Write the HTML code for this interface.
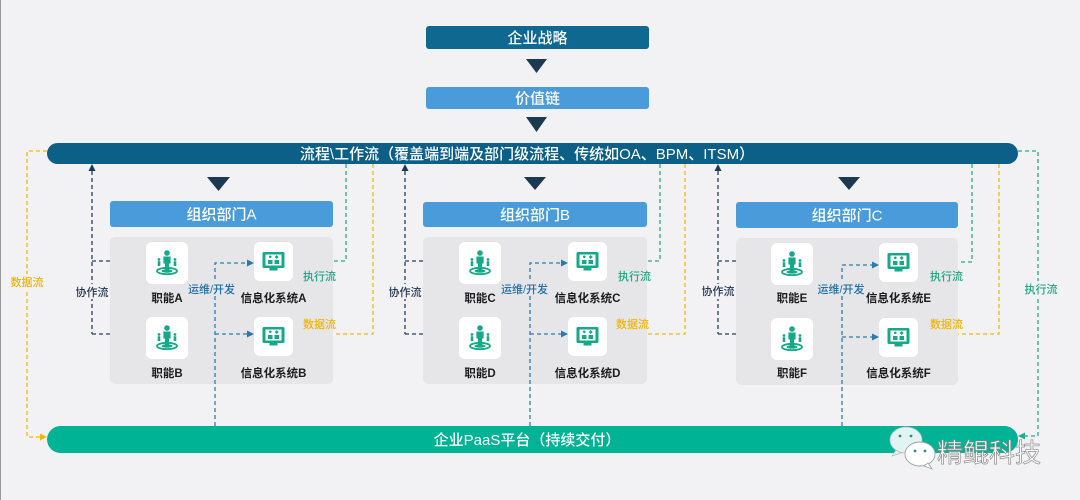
<!DOCTYPE html>
<html><head><meta charset="utf-8"><style>
html,body{margin:0;padding:0;background:#f2f1f4;}
svg{display:block;}
text{font-family:"Liberation Sans","Noto Sans CJK SC",sans-serif;}
.w{fill:#fff;font-size:15px;text-anchor:middle;font-weight:500;}
.lb{fill:#1c1c1c;font-size:11.5px;text-anchor:middle;font-weight:600;}
.fl{font-weight:500;}
.nv{fill:none;stroke:#23405c;stroke-width:1.3;stroke-dasharray:4 3;}
.bl{fill:none;stroke:#2c7cb3;stroke-width:1.3;stroke-dasharray:4 3;}
.tl{fill:none;stroke:#2aaa8a;stroke-width:1.3;stroke-dasharray:4 3;}
.yl{fill:none;stroke:#f5b90a;stroke-width:1.3;stroke-dasharray:4 3;}
</style></head><body>
<svg width="1080" height="500" viewBox="0 0 1080 500" xmlns="http://www.w3.org/2000/svg">
<defs>
<g id="person">
  <circle cx="0" cy="-10" r="2.8" fill="#15a98a"/>
  <path d="M-3.6,-6.5 h7.2 v7 h-1.5 v6.5 h-4.2 v-6.5 h-1.5z" fill="#15a98a"/>
  <circle cx="-8" cy="-3.5" r="1.4" fill="#15a98a"/>
  <rect x="-9.3" y="-1.8" width="2.6" height="4.8" fill="#15a98a"/>
  <circle cx="8" cy="-3.5" r="1.4" fill="#15a98a"/>
  <rect x="6.7" y="-1.8" width="2.6" height="4.8" fill="#15a98a"/>
  <ellipse cx="0" cy="8" rx="10" ry="3.2" fill="none" stroke="#15a98a" stroke-width="1.8"/>
  <ellipse cx="0" cy="8" rx="5.5" ry="1.8" fill="#15a98a"/>
</g>
<g id="monitor">
  <rect x="-11" y="-9" width="22" height="16" rx="1.5" fill="#15a98a"/>
  <rect x="-8" y="-6.5" width="16" height="11" fill="#fff"/>
  <rect x="-5.5" y="-1" width="4.5" height="4" fill="#15a98a"/>
  <rect x="1" y="-1" width="4.5" height="4" fill="#15a98a"/>
  <circle cx="-3.2" cy="-4.2" r="1.3" fill="#15a98a"/>
  <path d="M3.2,-6 l2,2 l-2,2 l-2,-2z" fill="#15a98a"/>
  <rect x="-4" y="7" width="8" height="2.5" fill="#15a98a"/>
</g>
</defs>

<rect x="0" y="0" width="1080" height="500" fill="#f2f1f4"/>
<line x1="0.5" y1="0" x2="0.5" y2="500" stroke="#9a9a9a" stroke-width="1"/>

<!-- top -->
<rect x="426" y="26" width="223" height="23" rx="3" fill="#0e6890"/>
<text class="w" x="537.5" y="43">企业战略</text>
<polygon points="526,59 547,59 536.5,73" fill="#1b3a52"/>
<rect x="426" y="87" width="223" height="22" rx="3" fill="#4a9bd9"/>
<text class="w" x="537.5" y="103.5">价值链</text>
<polygon points="526,117 547,117 536.5,132" fill="#1b3a52"/>

<!-- outer left yellow -->
<path class="yl" d="M47,151 H27 V437 H41"/>
<polygon points="47,437 40,433.5 40,440.5" fill="#f5b90a"/>
<rect x="8" y="274" width="38" height="15" fill="#f2f1f4"/>
<text class="fl" x="27" y="286" font-size="11" fill="#f2b400" text-anchor="middle">数据流</text>

<!-- outer right teal -->
<path class="tl" d="M1018,151 H1038 V436 H1024"/>
<polygon points="1018,436 1025,432.5 1025,439.5" fill="#2aaa8a"/>
<rect x="1022" y="281" width="38" height="15" fill="#f2f1f4"/>
<text class="fl" x="1041" y="293" font-size="11" fill="#1fa585" text-anchor="middle">执行流</text>

<!-- sections -->
<g transform="translate(110,0)">
  <path class="nv" d="M-18,171 V334 M-18,261 H36 M-18,334 H36"/>
  <polygon points="-18,164 -21.5,171 -14.5,171" fill="#1d3a55"/>
  <path class="tl" d="M236,164 V261 H192"/>
  <polygon points="185,261 192,257.5 192,264.5" fill="#2aaa8a"/>
  <path class="yl" d="M263,164 V334 H192"/>
  <polygon points="185,334 192,330.5 192,337.5" fill="#f5b90a"/>
  <rect x="0" y="201" width="223" height="26" rx="3" fill="#4a9bd9"/>
  <text class="w" x="111.5" y="219.5">组织部门A</text>
  <rect x="0" y="237" width="223" height="147" rx="5" fill="#e6e5e8"/>
  <path class="bl" d="M105,426 V263 H138 M105,334 H138"/>
  <polygon points="144,263 137,259.5 137,266.5" fill="#2a78b0"/>
  <polygon points="144,334 137,330.5 137,337.5" fill="#2a78b0"/>
  <rect x="36" y="242" width="42" height="42" rx="6" fill="#fff"/>
  <rect x="36" y="317" width="42" height="42" rx="6" fill="#fff"/>
  <rect x="144" y="242" width="39" height="39" rx="6" fill="#fff"/>
  <rect x="144" y="317" width="39" height="39" rx="6" fill="#fff"/>
  <use href="#person" x="57" y="263"/>
  <use href="#person" x="57" y="338"/>
  <use href="#monitor" x="163.5" y="261"/>
  <use href="#monitor" x="163.5" y="336"/>
  <text class="lb" x="57" y="302">职能A</text>
  <text class="lb" x="57" y="377">职能B</text>
  <text class="lb" x="163.5" y="302">信息化系统A</text>
  <text class="lb" x="163.5" y="377">信息化系统B</text>
  <rect x="-36" y="284" width="36" height="15" fill="#f2f1f4"/>
  <text class="fl" x="-18" y="296" font-size="11" fill="#1f3550" text-anchor="middle">协作流</text>
  <rect x="78" y="282" width="48" height="14" fill="#e6e5e8"/>
  <text class="fl" x="101.5" y="293" font-size="11" fill="#1e6ea8" text-anchor="middle">运维/开发</text>
  <text class="fl" x="193" y="280" font-size="11" fill="#1fa585">执行流</text>
  <text class="fl" x="193" y="328" font-size="11" fill="#f2b400">数据流</text>
</g>
<polygon points="207,177 230,177 218.5,191" fill="#1b3a52"/>

<g transform="translate(423,0)">
  <path class="nv" d="M-18,171 V334 M-18,261 H36 M-18,334 H36"/>
  <polygon points="-18,164 -21.5,171 -14.5,171" fill="#1d3a55"/>
  <path class="tl" d="M237,164 V261 H192"/>
  <polygon points="185,261 192,257.5 192,264.5" fill="#2aaa8a"/>
  <path class="yl" d="M262,164 V334 H192"/>
  <polygon points="185,334 192,330.5 192,337.5" fill="#f5b90a"/>
  <rect x="0" y="202" width="224" height="25" rx="3" fill="#4a9bd9"/>
  <text class="w" x="112" y="220">组织部门B</text>
  <rect x="0" y="237" width="224" height="147" rx="5" fill="#e6e5e8"/>
  <path class="bl" d="M107,426 V263 H139 M107,334 H139"/>
  <polygon points="145,263 138,259.5 138,266.5" fill="#2a78b0"/>
  <polygon points="145,334 138,330.5 138,337.5" fill="#2a78b0"/>
  <rect x="36" y="242" width="42" height="42" rx="6" fill="#fff"/>
  <rect x="36" y="317" width="42" height="42" rx="6" fill="#fff"/>
  <rect x="145" y="242" width="39" height="39" rx="6" fill="#fff"/>
  <rect x="145" y="317" width="39" height="39" rx="6" fill="#fff"/>
  <use href="#person" x="57" y="263"/>
  <use href="#person" x="57" y="338"/>
  <use href="#monitor" x="164.5" y="261"/>
  <use href="#monitor" x="164.5" y="336"/>
  <text class="lb" x="57" y="302">职能C</text>
  <text class="lb" x="57" y="377">职能D</text>
  <text class="lb" x="164.5" y="302">信息化系统C</text>
  <text class="lb" x="164.5" y="377">信息化系统D</text>
  <rect x="-36" y="284" width="36" height="15" fill="#f2f1f4"/>
  <text class="fl" x="-18" y="296" font-size="11" fill="#1f3550" text-anchor="middle">协作流</text>
  <rect x="78" y="282" width="48" height="14" fill="#e6e5e8"/>
  <text class="fl" x="101.5" y="293" font-size="11" fill="#1e6ea8" text-anchor="middle">运维/开发</text>
  <text class="fl" x="195" y="280" font-size="11" fill="#1fa585">执行流</text>
  <text class="fl" x="193" y="328" font-size="11" fill="#f2b400">数据流</text>
</g>
<polygon points="524,177 546,177 535,190" fill="#1b3a52"/>

<g transform="translate(736,0)">
  <path class="nv" d="M-18,171 V334 M-18,261 H35 M-18,334 H35"/>
  <polygon points="-18,164 -21.5,171 -14.5,171" fill="#1d3a55"/>
  <path class="tl" d="M236,164 V262 H191"/>
  <polygon points="184,262 191,258.5 191,265.5" fill="#2aaa8a"/>
  <path class="yl" d="M263,164 V334 H191"/>
  <polygon points="184,334 191,330.5 191,337.5" fill="#f5b90a"/>
  <rect x="0" y="202" width="222" height="26" rx="3" fill="#4a9bd9"/>
  <text class="w" x="111" y="220.5">组织部门C</text>
  <rect x="0" y="238" width="222" height="147" rx="5" fill="#e6e5e8"/>
  <path class="bl" d="M106,426 V265 H137 M106,337 H137"/>
  <polygon points="143,265 136,261.5 136,268.5" fill="#2a78b0"/>
  <polygon points="143,337 136,333.5 136,340.5" fill="#2a78b0"/>
  <rect x="35" y="243" width="42" height="42" rx="6" fill="#fff"/>
  <rect x="35" y="318" width="42" height="42" rx="6" fill="#fff"/>
  <rect x="143" y="243" width="39" height="39" rx="6" fill="#fff"/>
  <rect x="143" y="318" width="39" height="39" rx="6" fill="#fff"/>
  <use href="#person" x="56" y="264"/>
  <use href="#person" x="56" y="339"/>
  <use href="#monitor" x="162.5" y="262"/>
  <use href="#monitor" x="162.5" y="337"/>
  <text class="lb" x="56" y="302">职能E</text>
  <text class="lb" x="56" y="377">职能F</text>
  <text class="lb" x="162.5" y="302">信息化系统E</text>
  <text class="lb" x="162.5" y="377">信息化系统F</text>
  <rect x="-36" y="284" width="36" height="15" fill="#f2f1f4"/>
  <text class="fl" x="-18" y="295" font-size="11" fill="#1f3550" text-anchor="middle">协作流</text>
  <rect x="78" y="282" width="48" height="14" fill="#e6e5e8"/>
  <text class="fl" x="105" y="293" font-size="11" fill="#1e6ea8" text-anchor="middle">运维/开发</text>
  <text class="fl" x="194" y="280" font-size="11" fill="#1fa585">执行流</text>
  <text class="fl" x="194" y="328" font-size="11" fill="#f2b400">数据流</text>
</g>
<polygon points="838,177 860,177 849,190" fill="#1b3a52"/>

<!-- process bar -->
<rect x="47" y="143" width="971" height="21" rx="10.5" fill="#0c5f86"/>
<text class="w" x="527" y="159">流程\工作流（覆盖端到端及部门级流程、传统如OA、BPM、ITSM）</text>

<!-- platform -->
<rect x="47" y="426" width="971" height="27" rx="13.5" fill="#00b394"/>
<text class="w" x="527" y="445">企业PaaS平台（持续交付）</text>

<!-- watermark -->
<g>
  <ellipse cx="906" cy="440" rx="16" ry="13" fill="#e3f3f3" stroke="#b8c4c4" stroke-width="0.8"/>
  <path d="M896,450 l-4,6 l9,-3z" fill="#e3f3f3" stroke="#b8c4c4" stroke-width="0.8"/>
  <circle cx="900" cy="436" r="1.4" fill="#2a8f7f"/>
  <circle cx="911" cy="436" r="1.4" fill="#2a8f7f"/>
  <ellipse cx="920" cy="454" rx="15" ry="12" fill="#ffffff" stroke="#9aa4a4" stroke-width="0.9"/>
  <path d="M928,463 l4,6 l-8,-3z" fill="#fff" stroke="#9aa4a4" stroke-width="0.8"/>
  <circle cx="915" cy="451" r="1.4" fill="#2a8f7f"/>
  <circle cx="925" cy="451" r="1.4" fill="#2a8f7f"/>
  <text x="937" y="462" font-size="26" fill="#ffffff" stroke="#8c8c8c" stroke-width="0.7" font-family="'Liberation Sans','Noto Sans CJK SC',sans-serif">精鲲科技</text>
</g>
</svg>
</body></html>
